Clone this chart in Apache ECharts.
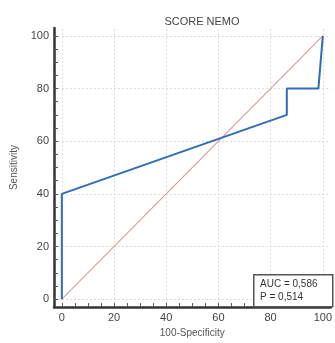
<!DOCTYPE html>
<html><head><meta charset="utf-8">
<script src="https://cdn.jsdelivr.net/npm/echarts@6/dist/echarts.min.js"></script>
<style>html,body{margin:0;padding:0;background:#fff}#c{width:335px;height:343px}</style>
</head><body><div id="c"></div>
<script>
const titleText = "SCORE NEMO";
const xName = "100-Specificity";
const yName = "Sensitivity";
const rocX = [0, 0, 86.2, 86.2, 98.3, 100];
const rocY = [0, 40, 70, 80, 80, 100];
const diagX = [0, 100];
const diagY = [0, 100];
const majorTicks = [0, 20, 40, 60, 80, 100];
const minorTicks = [0,5,10,15,20,25,30,35,40,45,50,55,60,65,70,75,80,85,90,95,100];
const statLines = ["AUC = 0,586", "P = 0,514"];

const chart = echarts.init(document.getElementById('c'), null, {renderer: 'canvas'});
const font = 'Liberation Sans, Arial, sans-serif';
const axisCommon = {
  type: 'value', min: -3, max: 103,
  axisLine: {show: true, onZero: false, lineStyle: {color: '#333', width: 2.5}},
  axisTick: {show: true, inside: true, length: 4, customValues: minorTicks, lineStyle: {color: '#555', width: 1}},
  axisLabel: {customValues: majorTicks, color: '#444', fontSize: 11, fontFamily: font, margin: 5},
  splitLine: {show: false},
  nameLocation: 'middle',
  nameTextStyle: {color: '#555', fontSize: 10, fontFamily: font}
};
chart.setOption({
  animation: false,
  title: {text: titleText, left: 197, top: 11, textAlign: 'center',
    textStyle: {fontSize: 11, fontWeight: 'normal', color: '#444', fontFamily: font}},
  grid: {left: 54, right: -6, top: 28, bottom: 29, containLabel: false},
  xAxis: Object.assign({}, axisCommon, {name: xName, nameGap: 18}),
  yAxis: Object.assign({}, axisCommon, {name: yName, nameGap: 33}),
  series: [
    {type: 'line', data: [], z: 0, zlevel: 0,
      markLine: {silent: true, symbol: 'none', label: {show: false}, z: 0,
        lineStyle: {color: '#dcdcdc', type: [2, 2], width: 1},
        data: majorTicks.map(v => ({xAxis: v})).concat(majorTicks.map(v => ({yAxis: v})))}
    },
    {type: 'line', data: diagX.map((v, i) => [v, diagY[i]]), symbol: 'none',
      lineStyle: {color: '#d99a9a', width: 1.1}, z: 4},
    {type: 'line', data: rocX.map((v, i) => [v, rocY[i]]), symbol: 'none',
      lineStyle: {color: '#2f6db5', width: 2}, z: 6}
  ],
  graphic: [
    {type: 'rect', left: 253, top: 274, z: 10,
      shape: {width: 79, height: 32},
      style: {fill: '#fff', stroke: '#555', lineWidth: 1.5}},
    {type: 'text', left: 260, top: 278, z: 11,
      style: {text: statLines.join('\n'), fill: '#333', fontSize: 10, lineHeight: 13, fontFamily: font}}
  ]
});
</script></body></html>
